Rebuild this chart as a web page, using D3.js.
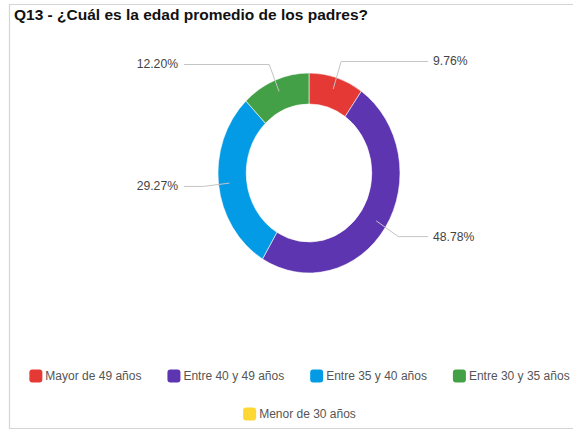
<!DOCTYPE html>
<html>
<head>
<meta charset="utf-8">
<script src="https://cdnjs.cloudflare.com/ajax/libs/d3/7.8.5/d3.min.js"></script>
<style>
  html, body { margin: 0; padding: 0; background: #fff; }
  svg { display: block; font-family: "Liberation Sans", Arial, sans-serif; }
</style>
</head>
<body>
<svg id="chart" width="573" height="429"></svg>
<script>
// Answer categories, in drawing order (clockwise from 12 o'clock)
const categories = ["Mayor de 49 años", "Entre 40 y 49 años", "Entre 35 y 40 años", "Entre 30 y 35 años", "Menor de 30 años"];
// Share of responses, in percent
const percents = [9.76, 48.78, 29.27, 12.20, 0];
const colors = ["#e53935", "#5e35b1", "#039be5", "#43a047", "#fdd835"];
const titleText = "Q13 - ¿Cuál es la edad promedio de los padres?";

const svg = d3.select("#chart");
const W = 573, H = 429;

// frame
svg.append("path")
  .attr("d", `M${W},4.5 H9.5 V428.5 H${W}`)
  .attr("fill", "none").attr("stroke", "#d4d4d4").attr("stroke-width", 1.2);

svg.append("text")
  .attr("x", 14).attr("y", 19.5)
  .attr("font-size", 15.5).attr("font-weight", "bold").attr("fill", "#111")
  .text(titleText);

// donut
const cx = 309, cy = 173, sx = 0.91;
const outerR = 100, innerR = 69;
const data = categories.map((c, i) => ({ cat: c, value: percents[i], color: colors[i] }));
const pie = d3.pie().value(d => d.value).sort(null);
const arcs = pie(data);
const arc = d3.arc().innerRadius(innerR).outerRadius(outerR);

const g = svg.append("g").attr("transform", `translate(${cx},${cy}) scale(${sx},1)`);
g.selectAll("path.slice")
  .data(arcs.filter(a => a.value > 0))
  .join("path")
  .attr("class", "slice")
  .attr("d", arc)
  .attr("fill", d => d.data.color)
  .attr("stroke", "#fff").attr("stroke-width", 0.6);

// leader lines and value labels
const startArc = d3.arc().innerRadius(88).outerRadius(88);
const elbowArc = d3.arc().innerRadius(117).outerRadius(117);
const rightTextX = cx + 124, leftTextX = cx - 131;
const fmt = d3.format(".2f");

const labels = svg.append("g");
arcs.filter(a => a.value > 0).forEach(a => {
  const mid = (a.startAngle + a.endAngle) / 2;
  const right = Math.sin(mid) > 0;
  const [px, py] = startArc.centroid(a);
  const [ex, ey] = elbowArc.centroid(a);
  const p0 = [cx + px * sx, cy + py];
  const p1 = [cx + ex * sx, cy + ey];
  const p2 = [right ? rightTextX - 5 : leftTextX + 6, p1[1]];
  labels.append("path")
    .attr("d", d3.line()([p0, p1, p2]))
    .attr("fill", "none").attr("stroke", "#c4c4c4").attr("stroke-width", 1);
  labels.append("text")
    .attr("x", right ? rightTextX : leftTextX)
    .attr("y", p1[1] + 4)
    .attr("text-anchor", right ? "start" : "end")
    .attr("font-size", 12.2).attr("fill", "#444")
    .text(fmt(a.data.value) + "%");
});

// legend: two centred rows
const legend = svg.append("g");
const sq = 13, gapText = 3, gapItem = 26, legendCx = 299.5;
function legendItem(parent, d) {
  const it = parent.append("g");
  it.append("rect").attr("width", sq).attr("height", sq).attr("rx", 3)
    .attr("y", -sq / 2).attr("fill", d.color);
  const t = it.append("text").attr("x", sq + gapText).attr("y", 4.2)
    .attr("font-size", 12).attr("fill", "#555")
    .text(d.cat);
  return { it, w: sq + gapText + t.node().getComputedTextLength() };
}
function legendRow(items, y) {
  const made = items.map(d => legendItem(legend, d));
  const total = d3.sum(made, m => m.w) + gapItem * (made.length - 1);
  let x = legendCx - total / 2;
  made.forEach(m => {
    m.it.attr("transform", `translate(${x},${y})`);
    x += m.w + gapItem;
  });
}
legendRow(data.slice(0, 4), 376);
legendRow(data.slice(4), 414);
</script>
</body>
</html>
